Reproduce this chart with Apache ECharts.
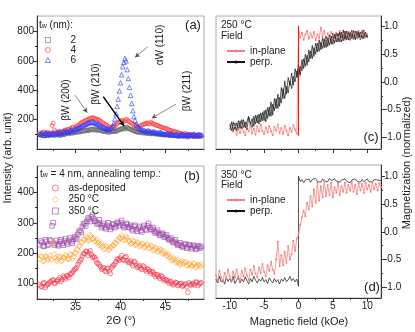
<!DOCTYPE html>
<html>
<head>
<meta charset="utf-8">
<script src="https://cdn.jsdelivr.net/npm/echarts@6/dist/echarts.min.js"></script>
<style>
html,body{margin:0;padding:0;background:#fff;}
#chart{width:415px;height:332px;}
</style>
</head>
<body>
<div id="chart"></div>
<script>
// 2theta grids (deg), shared by panels (a) and (b)
var twoTheta = [31,31.25,31.5,31.75, 32,32.25,32.5,32.75, 33,33.25,33.5,33.75, 34,34.25,34.5,34.75,
  35,35.25,35.5,35.75, 36,36.25,36.5,36.75, 37,37.25,37.5,37.75, 38,38.25,38.5,38.75,
  39,39.25,39.5,39.75, 40,40.25,40.5,40.75, 41,41.25,41.5,41.75, 42,42.25,42.5,42.75,
  43,43.25,43.5,43.75, 44,44.25,44.5,44.75, 45,45.25,45.5,45.75, 46,46.25,46.5,46.75,
  47,47.25,47.5,47.75, 48,48.25,48.5,48.75, 49];
var twoThetaHalf = [31.125,31.375,31.625,31.875, 32.125,32.375,32.625,32.875, 33.125,33.375,33.625,33.875,
  34.125,34.375,34.625,34.875, 35.125,35.375,35.625,35.875, 36.125,36.375,36.625,36.875,
  37.125,37.375,37.625,37.875, 38.125,38.375,38.625,38.875, 39.125,39.375,39.625,39.875,
  40.125,40.375,40.625,40.875, 41.125,41.375,41.625,41.875, 42.125,42.375,42.625,42.875,
  43.125,43.375,43.625,43.875, 44.125,44.375,44.625,44.875, 45.125,45.375,45.625,45.875,
  46.125,46.375,46.625,46.875, 47.125,47.375,47.625,47.875, 48.125,48.375,48.625,48.875];

// (a) t_w series
var tw2 = [95,102,88,99, 92,104,96,101, 98,90,105,100, 103,110,104,115, 112,120,116,125,
  122,130,126,134, 128,135,126,130, 122,118,125,115, 118,124,120,128, 132,140,135,145,
  138,130,124,118, 112,118,108,112, 105,110,102,108, 100,104,96,100, 95,100,92,97,
  90,96,88,94, 86,92,84,90, 88,84,90,86, 88];
var tw2Half = [98,93,104,90, 100,97,94,106, 95,102,97,108, 107,112,118,110, 118,114,124,120,
  128,124,132,137, 131,128,133,124, 120,123,112,120, 122,118,126,134, 137,142,150,140,
  134,127,120,115, 115,110,113,106, 108,104,106,102, 102,98,102,95, 98,94,96,92,
  93,90,92,88, 89,87,92,86, 87,90,85,88];
var tw4 = [110,98,115,105, 112,100,175,118, 110,120,112,125, 128,135,140,150, 148,160,170,182,
  190,198,205,210, 212,206,200,190, 178,168,160,150, 145,152,165,180, 188,195,192,198,
  185,175,162,155, 150,158,165,172, 178,170,176,168, 162,158,150,145, 140,135,128,122,
  118,115,110,105, 100,104,80,98, 92,96,88,92, 90];
var tw4Half = [104,114,98,108, 106,160,130,112, 118,106,120,130, 134,124,147,140, 157,163,178,186,
  197,200,210,214, 208,203,197,184, 174,164,155,146, 150,158,174,184, 194,186,202,190,
  180,168,158,148, 156,162,170,176, 173,182,171,164, 160,152,148,140, 138,130,125,118,
  116,112,106,102, 104,94,100,92, 96,88,94,86];
var tw6 = [100,108,95,112, 105,98,110,102, 108,115,104,118, 122,115,130,125, 135,142,150,158,
  165,172,178,185, 182,175,170,160, 150,142,138,132, 145,175,240,340, 450,560,615,540,
  420,310,220,170, 145,135,128,122, 125,120,115,118, 112,108,114,104, 100,106,98,104,
  94,100,90,96, 98,92,100,94, 96,102,92,100, 98];
var tw6Half = [104,96,108,98, 102,108,97,110, 112,106,122,114, 120,128,120,134, 138,148,152,164,
  168,178,180,184, 178,170,166,154, 146,138,136,140, 158,205,290,395, 505,590,600,480,
  365,260,195,158, 140,130,128,120, 124,116,118,112, 110,114,104,102, 106,98,103,94,
  99,91,96,101, 93,99,95,99, 101,93,99,95];

// (b) t_w = 4 nm, annealing
var asDep = [95,88,102,92, 98,105,112,100, 108,118,112,120, 125,118,132,140, 148,162,175,190,
  198,205,200,195, 188,178,165,155, 150,142,148,140, 152,160,172,180, 184,178,185,175,
  170,165,172,160, 155,150,158,145, 148,140,138,130, 128,122,125,115, 112,108,104,100,
  98,102,95,100, 92,98,70,96, 100,94,104,98, 102];
var asDepHalf = [90,100,86,97, 104,110,100,108, 112,106,124,114, 124,130,134,146, 152,170,180,198,
  206,192,208,186, 186,168,162,146, 152,138,150,132, 158,164,180,176, 192,176,188,168,
  174,158,170,152, 158,146,154,140, 145,132,138,122, 128,116,122,108, 112,100,106,94,
  103,92,99,90, 96,88,102,94, 98,104,92,100];
var ann250 = [180,188,175,190, 182,178,240,185, 180,188,176,185, 190,180,195,188, 200,210,225,235,
  245,250,242,255, 248,240,235,228, 222,215,220,212, 218,225,232,240, 248,252,245,250,
  240,232,238,228, 232,225,230,220, 228,218,222,212, 215,208,210,200, 198,192,185,180,
  178,172,168,165, 165,170,160,162, 158,165,155,160, 162];
var ann250Half = [190,172,188,176, 192,230,196,174, 188,172,186,194, 180,196,182,200, 212,222,236,246,
  256,240,260,246, 238,246,226,232, 212,224,208,220, 226,234,244,252, 258,242,256,240,
  230,242,226,236, 222,232,218,228, 214,226,208,218, 204,214,198,206, 190,196,176,186,
  168,178,160,172, 172,158,166,154, 166,152,162,154];
var ann350 = [228,235,222,238, 230,240,300,232, 228,238,232,240, 235,242,238,245, 250,262,275,288,
  298,305,312,320, 315,305,300,295, 290,285,292,288, 285,295,290,298, 300,292,288,295,
  285,280,288,278, 282,275,285,280, 290,285,278,272, 270,265,260,262, 255,250,245,240,
  238,232,228,225, 222,228,220,225, 218,222,215,220, 222];
var ann350Half = [240,224,244,226, 244,290,226,242, 224,244,226,248, 230,250,232,254, 246,270,268,296,
  290,316,304,326, 306,296,310,284, 298,280,300,278, 296,284,302,290, 308,284,298,286,
  292,274,292,272, 288,270,292,276, 298,278,284,266, 276,258,266,252, 260,244,250,234,
  244,226,234,220, 230,216,228,214, 226,212,224,216];

// peak labels for (a): text, arrow start and arrow end in data units
var peakNames = ['\u03b2W (200)', '\u03b2W (210)', '\u03b1W (110)', '\u03b2W (211)'];
var arrowFrom = [[34.93,367],[38.08,356],[43.03,696],[46.18,306]];
var arrowTo = [[36.3,247],[40.39,157],[41.62,624],[43.48,209]];

// field grids (kOe)
var fieldC = [-10,-9.75,-9.5,-9.25, -9,-8.75,-8.5,-8.25, -8,-7.75,-7.5,-7.25, -7,-6.75,-6.5,-6.25,
  -6,-5.75,-5.5,-5.25, -5,-4.75,-4.5,-4.25, -4,-3.75,-3.5,-3.25, -3,-2.75,-2.5,-2.25,
  -2,-1.75,-1.5,-1.25, -1,-0.75,-0.5,-0.25, 0,0.25,0.5,0.75, 1,1.25,1.5,1.75,
  2,2.25,2.5,2.75, 3,3.25,3.5,3.75, 4,4.25,4.5,4.75, 5,5.25,5.5,5.75, 6,6.25,6.5,6.75,
  7,7.25,7.5,7.75, 8,8.25,8.5,8.75, 9,9.25,9.5,9.75, 10];
var fieldD = [-12,-11.75,-11.5,-11.25, -11,-10.75,-10.5,-10.25].concat(fieldC, [10.25,10.5,10.75, 11,11.25,11.5,11.75, 12]);

// (c) 250 C
var inPlaneLowC = [null,null,-0.9,-0.8, -0.95,-0.84,-0.92,-0.79, -0.9,-0.96,-0.82,-0.89,
  -0.78,-0.93,-0.84,-0.95, -0.8,-0.9,-0.77,-0.88, -0.94,-0.82,-0.91,-0.79, -0.89,-0.96,-0.81,-0.88,
  -0.77,-0.92,-0.83,-0.94, -0.79,-0.88,-0.96,-0.83, -0.9,-0.78,-0.86,-0.93, -0.96];
var inPlaneUpC = [1.0,0.8,0.89,0.76, 0.86,0.92,0.78,0.88, 0.8,0.9,0.75,0.86, 0.79,0.98,0.82,0.92,
  0.77,0.88,0.8,0.9, 0.84,0.77,0.89,0.81, 0.92,0.78,0.87,0.76, 0.85,0.91,0.8,0.89,
  0.77,0.87,0.82,0.92, 0.79,0.86,0.9,0.8, 0.86];
var perpUpC = [-0.76,-0.88,-0.72,-0.85, -0.74,-0.86,-0.7,-0.84, -0.68,-0.83,-0.71,-0.62,
  -0.78,-0.66,-0.8,-0.6, -0.74,-0.58,-0.72,-0.55, -0.7,-0.5,-0.66,-0.45, -0.62,-0.4,-0.52,-0.3,
  -0.48,-0.28,-0.38,-0.12, -0.3,-0.08,-0.2,0.02, -0.12,0.1,0.0,0.2, 0.06,0.28,0.2,0.42,
  0.28,0.48,0.36,0.56, 0.42,0.62,0.5,0.7, 0.55,0.72,0.6,0.78, 0.62,0.8,0.66,0.83,
  0.68,0.86,0.72,0.88, 0.72,0.9,0.74,0.92, 0.76,0.9,0.75,0.93, 0.77,0.92,0.78,0.9,
  0.76,0.93,0.78,0.9, 0.8];
var perpDownC = [-0.86,-0.72,-0.9,-0.74, -0.88,-0.7,-0.84,-0.68, -0.82,-0.72,-0.86,-0.64,
  -0.74,-0.82,-0.62,-0.76, -0.6,-0.76,-0.56,-0.7, -0.52,-0.72,-0.46,-0.62, -0.36,-0.6,-0.3,-0.48,
  -0.22,-0.44,-0.1,-0.3, 0.02,-0.22,0.08,-0.06, 0.16,-0.06,0.24,0.08, 0.32,0.12,0.4,0.24,
  0.5,0.3,0.58,0.42, 0.66,0.46,0.7,0.54, 0.76,0.58,0.8,0.62, 0.82,0.64,0.85,0.68,
  0.88,0.7,0.9,0.72, 0.9,0.72,0.94,0.76, 0.92,0.76,0.9,0.78, 0.93,0.76,0.92,0.8,
  0.9,0.78,0.94,0.8, 0.86];

// (d) 350 C
var inPlaneD = [-0.78,-0.88,-0.7,-0.82, -0.9,-0.74,-0.84,-0.68, -0.8,-0.9,-0.72,-0.82,
  -0.68,-0.8,-0.88,-0.7, -0.8,-0.66,-0.78,-0.86, -0.68,-0.77,-0.62,-0.75, -0.82,-0.64,-0.74,-0.58,
  -0.72,-0.8,-0.6,-0.7, -0.54,-0.68,-0.76,-0.5, -0.18,-0.62,-0.42,-0.6, -0.36,-0.56,-0.26,-0.5,
  -0.4,-0.16,-0.34,-0.12, -0.05,0.12,0.26,0.38, 0.28,0.52,0.4,0.64, 0.46,0.76,0.52,0.88,
  0.56,0.82,0.62,0.92, 0.64,0.84,0.66,0.88, 0.62,0.8,0.7,0.88, 0.66,0.82,0.72,0.88,
  0.7,0.84,0.74,0.9, 0.72,0.84,0.68,0.87, 0.74,0.86,0.7,0.88, 0.76,0.84,0.72,0.88,
  0.76,0.86,0.74,0.87, 0.8];
var perpLowD = [-0.85,-0.92,-0.8,-0.9, -0.86,-0.94,-0.82,-0.89, -0.84,-0.91,-0.8,-0.93,
  -0.87,-0.82,-0.92,-0.85, -0.9,-0.81,-0.88,-0.94, -0.84,-0.9,-0.8,-0.87, -0.92,-0.85,-0.89,-0.82,
  -0.9,-0.86,-0.93,-0.83, -0.88,-0.92,-0.84,-0.9, -0.86,-0.94,-0.85,-0.89, -0.82,-0.9,-0.86,-0.8,
  -0.88,-0.84,-0.9,-0.85, -0.98];
var perpUpD = [1.0,0.9,0.94,0.88, 0.93,0.9,0.95,0.89, 0.94,0.91,0.96,0.9, 0.93,0.89,0.95,0.91,
  0.94,0.9,0.96,0.92, 0.9,0.95,0.91,0.94, 0.89,0.93,0.9,0.95, 0.91,0.94,0.88,0.93,
  0.9,0.95,0.91,0.93, 0.89,0.94,0.9,0.92, 0.95,0.9,0.93,0.89, 0.94,0.91,0.93,0.9, 0.92];

var magTicks = [-1,-0.5,0,0.5,1];
var magMinor = [-0.75,-0.25,0.25,0.75];
var fieldTicks = [-10,-5,0,5,10];
var fieldMinor = [-7.5,-2.5,2.5,7.5];

function pairs(xs, ys) {
  var out = [];
  for (var i = 0; i < ys.length; i++) {
    if (ys[i] != null) out.push([xs[i], ys[i]]);
  }
  return out;
}

var FONT = 'Liberation Sans, Arial, sans-serif';

function mainAxis(grid, min, max, ticks, showLabels, position, fmt) {
  return {
    type: 'value', gridIndex: grid, min: min, max: max, position: position,
    axisLine: {show: true, onZero: false, lineStyle: {color: '#333', width: 1}},
    axisTick: {show: true, inside: false, length: 4, customValues: ticks, lineStyle: {color: '#333'}},
    axisLabel: {show: showLabels, customValues: ticks, fontSize: 10, color: '#222', margin: 3, formatter: fmt},
    splitLine: {show: false}
  };
}
function minorAxis(grid, min, max, ticks, position) {
  return {
    type: 'value', gridIndex: grid, min: min, max: max, position: position,
    axisLine: {show: false, onZero: false},
    axisTick: {show: true, inside: false, length: 2, customValues: ticks, lineStyle: {color: '#333'}},
    axisLabel: {show: false},
    splitLine: {show: false}
  };
}
function oneDec(v) { return v.toFixed(1); }

function hollow(name, symbol, size, color, data, xi) {
  return {
    name: name, type: 'scatter', xAxisIndex: xi, yAxisIndex: xi,
    symbol: symbol, symbolSize: size,
    itemStyle: {color: 'rgba(0,0,0,0)', borderColor: color, borderWidth: 0.8},
    data: data
  };
}

var arrows = [];
for (var k = 0; k < arrowFrom.length; k++) {
  var first = {coord: arrowFrom[k]};
  if (k == 1) first.lineStyle = {color: '#000', width: 1.5};
  arrows.push([first, {coord: arrowTo[k]}]);
}

var blue = hollow('6', 'triangle', 4.5, '#2f3cff', pairs(twoTheta, tw6).concat(pairs(twoThetaHalf, tw6Half)), 0);
blue.markLine = {
  silent: true, animation: false,
  symbol: ['none', 'arrow'], symbolSize: [4, 5],
  lineStyle: {color: '#555', width: 0.7, type: 'solid'},
  label: {show: false},
  data: arrows
};

var inPlaneC = {
  name: 'in-plane', type: 'line', xAxisIndex: 4, yAxisIndex: 4,
  symbol: 'circle', symbolSize: 2, showSymbol: true,
  lineStyle: {color: '#f58080', width: 0.8}, itemStyle: {color: '#f58080'},
  data: pairs(fieldC.slice(0, 41), inPlaneLowC).concat(pairs(fieldC.slice(40), inPlaneUpC)),
  markLine: {
    silent: true, animation: false, symbol: ['none', 'none'],
    lineStyle: {color: '#ff1010', width: 1, type: 'solid'}, label: {show: false},
    data: [[{coord: [0, inPlaneLowC[40]]}, {coord: [0, inPlaneUpC[0]]}]]
  }
};
var perpC = {
  name: 'perp.', type: 'line', xAxisIndex: 4, yAxisIndex: 4,
  symbol: 'none', lineStyle: {color: '#111', width: 0.7}, itemStyle: {color: '#111'},
  data: pairs(fieldC, perpUpC).concat(pairs(fieldC, perpDownC).reverse())
};
var perpD = {
  name: 'perp.', type: 'line', xAxisIndex: 6, yAxisIndex: 6,
  symbol: 'none', lineStyle: {color: '#111', width: 0.7}, itemStyle: {color: '#111'},
  data: pairs(fieldD.slice(0, 49), perpLowD).concat(pairs(fieldD.slice(48), perpUpD))
};
var inPlaneD2 = {
  name: 'in-plane', type: 'line', xAxisIndex: 6, yAxisIndex: 6,
  symbol: 'circle', symbolSize: 2, showSymbol: true,
  lineStyle: {color: '#f58080', width: 0.8}, itemStyle: {color: '#f58080'},
  data: pairs(fieldD, inPlaneD)
};

function label(text, x, y, size, rot, extra) {
  var st = {text: text, fill: '#222', font: size + 'px ' + FONT, align: 'center', verticalAlign: 'middle'};
  if (extra) for (var p in extra) st[p] = extra[p];
  return {type: 'text', x: x, y: y, rotation: rot || 0, style: st, silent: true};
}
function leftLabel(text, x, y, size, extra) {
  var g = label(text, x, y, size, 0, extra);
  g.style.align = 'left';
  return g;
}
var subRich = {s: {fontSize: 7, fontFamily: FONT, verticalAlign: 'bottom', fill: '#222'}};

var chart = echarts.init(document.getElementById('chart'));
var option = {
  animation: false,
  textStyle: {fontFamily: FONT},
  grid: [
    {left: 37, top: 16, width: 167, height: 133, show: true, borderColor: '#aaa', borderWidth: 1},
    {left: 37, top: 166, width: 167, height: 133, show: true, borderColor: '#aaa', borderWidth: 1},
    {left: 216, top: 16, width: 165, height: 133, show: true, borderColor: '#aaa', borderWidth: 1},
    {left: 216, top: 165, width: 165, height: 133, show: true, borderColor: '#aaa', borderWidth: 1}
  ],
  xAxis: [
    mainAxis(0, 30.7, 49.3, [35, 40, 45], false, 'bottom'),
    minorAxis(0, 30.7, 49.3, [32.5, 37.5, 42.5, 47.5], 'bottom'),
    mainAxis(1, 30.7, 49.3, [35, 40, 45], true, 'bottom'),
    minorAxis(1, 30.7, 49.3, [32.5, 37.5, 42.5, 47.5], 'bottom'),
    mainAxis(2, -12, 12, fieldTicks, false, 'bottom'),
    minorAxis(2, -12, 12, fieldMinor, 'bottom'),
    mainAxis(3, -12, 12, fieldTicks, true, 'bottom'),
    minorAxis(3, -12, 12, fieldMinor, 'bottom')
  ],
  yAxis: [
    mainAxis(0, 0, 905, [200, 400, 600, 800], true, 'left'),
    minorAxis(0, 0, 905, [100, 300, 500, 700], 'left'),
    mainAxis(1, 48, 488, [100, 200, 300, 400], true, 'left'),
    minorAxis(1, 48, 488, [150, 250, 350, 450], 'left'),
    mainAxis(2, -1.21, 1.19, magTicks, true, 'right', oneDec),
    minorAxis(2, -1.21, 1.19, magMinor, 'right'),
    mainAxis(3, -1.19, 1.2, magTicks, true, 'right', oneDec),
    minorAxis(3, -1.19, 1.2, magMinor, 'right')
  ],
  legend: [
    {data: ['2', '4', '6'], orient: 'vertical', left: 40, top: 30, itemWidth: 5, itemHeight: 5, itemGap: 0,
      selectedMode: false, itemStyle: {borderWidth: 0.8},
      textStyle: {fontSize: 10, color: '#222', lineHeight: 9, padding: [0, 0, 0, 15]}},
    {data: ['as-deposited', '250 \u00b0C', '350 \u00b0C'], orient: 'vertical', left: 47, top: 178,
      itemWidth: 6, itemHeight: 6, itemGap: 1.5, selectedMode: false, itemStyle: {borderWidth: 0.8},
      textStyle: {fontSize: 10, color: '#222', lineHeight: 10, padding: [0, 0, 0, 5]}},
    {data: ['in-plane', 'perp.'], orient: 'vertical', left: 221, top: 41, itemWidth: 18, itemHeight: 4, itemGap: 1,
      selectedMode: false, textStyle: {fontSize: 10, color: '#222', lineHeight: 9}},
    {data: ['in-plane', 'perp.'], orient: 'vertical', left: 221, top: 190, itemWidth: 18, itemHeight: 4, itemGap: 1,
      selectedMode: false, textStyle: {fontSize: 10, color: '#222', lineHeight: 9}}
  ],
  graphic: [
    label('Intensity (arb. unit)', 8, 158, 11, Math.PI / 2),
    label('Magnetization (normalized)', 407, 163, 11, Math.PI / 2),
    label('2\u0398 (\u00b0)', 121, 321, 11, 0),
    label('Magnetic field (kOe)', 299, 322, 11, 0),
    label('(a)', 193, 25, 13, 0),
    label('(b)', 192, 176, 13, 0),
    label('(c)', 371, 137, 13, 0),
    label('(d)', 372, 287, 13, 0),
    label(peakNames[0], 66.7, 100, 10, Math.PI / 2),
    label(peakNames[1], 96, 84, 10, Math.PI / 2),
    label(peakNames[2], 160, 45, 10, Math.PI / 2),
    label(peakNames[3], 187, 91, 10, Math.PI / 2),
    leftLabel('t{s|w} (nm):', 39, 25, 10, {rich: subRich}),
    leftLabel('t{s|w} = 4 nm, annealing temp.:', 40, 174, 10, {rich: subRich}),
    leftLabel('250 \u00b0C', 221, 25, 10),
    leftLabel('Field', 221, 36, 10),
    leftLabel('350 \u00b0C', 221, 175, 10),
    leftLabel('Field', 221, 185.5, 10)
  ],
  series: [
    hollow('2', 'rect', 3.5, '#666', pairs(twoTheta, tw2).concat(pairs(twoThetaHalf, tw2Half)), 0),
    hollow('4', 'circle', 4, '#ff3b3b', pairs(twoTheta, tw4).concat(pairs(twoThetaHalf, tw4Half)), 0),
    blue,
    hollow('350 \u00b0C', 'rect', 4.5, '#9a48a8', pairs(twoTheta, ann350).concat(pairs(twoThetaHalf, ann350Half)), 2),
    hollow('250 \u00b0C', 'diamond', 5.5, '#ffa02e', pairs(twoTheta, ann250).concat(pairs(twoThetaHalf, ann250Half)), 2),
    hollow('as-deposited', 'circle', 4.5, '#f2344a', pairs(twoTheta, asDep).concat(pairs(twoThetaHalf, asDepHalf)), 2),
    inPlaneC,
    perpC,
    perpD,
    inPlaneD2
  ]
};
chart.setOption(option);
</script>
</body>
</html>
